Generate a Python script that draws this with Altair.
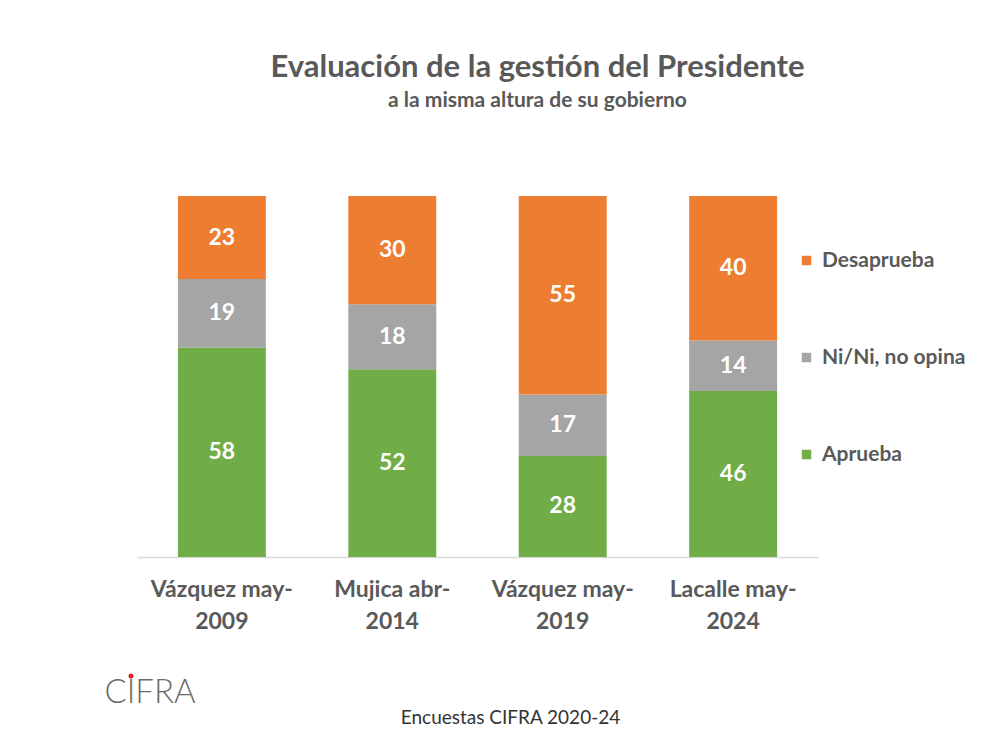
import altair as alt
import pandas as pd

periods = ["Vázquez may-2009", "Mujica abr-2014", "Vázquez may-2019", "Lacalle may-2024"]
aprueba = [58, 52, 28, 46]
nini = [19, 18, 17, 14]
desaprueba = [23, 30, 55, 40]
series = ["Aprueba", "Ni/Ni, no opina", "Desaprueba"]
legend_order = ["Desaprueba", "Ni/Ni, no opina", "Aprueba"]
legend_colors = ["#ED7D31", "#A5A5A5", "#70AD47"]

rows = []
for i, p in enumerate(periods):
    for k, (s, vals) in enumerate(zip(series, [aprueba, nini, desaprueba])):
        rows.append({"periodo": p, "serie": s, "valor": vals[i], "orden": k})
df = pd.DataFrame(rows)

FONT = "Lato"
GREY = "#595959"

base = alt.Chart(df).transform_stack(
    stack="valor", groupby=["periodo"], sort=[alt.SortField("orden")], as_=["v0", "v1"]
).transform_calculate(mid="(datum.v0 + datum.v1) / 2")

x_enc = alt.X(
    "periodo:N",
    sort=periods,
    scale=alt.Scale(paddingInner=0.484, paddingOuter=0.24),
    axis=alt.Axis(
        title="Encuestas CIFRA 2020-24",
        titleFont=FONT, titleFontSize=19, titleFontWeight="normal", titleColor="#333333",
        titleX=373, titleY=166, titleAlign="center", titleBaseline="alphabetic",
        labelAngle=0, labelFont=FONT, labelFontSize=23, labelFontWeight="bold",
        labelColor=GREY, labelPadding=21, labelLineHeight=32, labelLimit=400,
        labelExpr="[slice(datum.label, 0, indexof(datum.label, '-') + 1), slice(datum.label, indexof(datum.label, '-') + 1)]",
        ticks=False, domainColor="#D9D9D9", domainWidth=1.5,
    ),
)

bars = base.mark_bar().encode(
    x=x_enc,
    y=alt.Y("v0:Q", scale=alt.Scale(domain=[0, 100]), axis=None),
    y2="v1:Q",
    color=alt.Color(
        "serie:N",
        scale=alt.Scale(domain=legend_order, range=legend_colors),
        legend=alt.Legend(
            title=None, orient="none", legendX=659, legendY=54, padding=0,
            symbolType="square", symbolSize=90, symbolStrokeWidth=0,
            labelFont=FONT, labelFontSize=21, labelFontWeight="bold", labelColor=GREY,
            labelOffset=5, rowPadding=75,
        ),
    ),
)

labels = base.mark_text(
    color="white", font=FONT, fontSize=23, fontWeight="bold", baseline="middle"
).encode(
    x=alt.X("periodo:N", sort=periods),
    y=alt.Y("mid:Q"),
    text=alt.Text("valor:Q"),
)

logo = alt.Chart(pd.DataFrame({"t": ["CIFRA"]})).mark_text(
    font=FONT, fontSize=33, fontWeight=300, color="#6b6b6b", align="center", baseline="middle"
).encode(x=alt.value(13), y=alt.value(497), text="t:N")

dot = alt.Chart(pd.DataFrame({"t": ["."]})).mark_point(
    filled=True, color="#E02020", size=25, opacity=1
).encode(x=alt.value(-6), y=alt.value(480))

chart = alt.layer(bars, labels, logo, dot).properties(
    width=681,
    height=361,
    autosize=alt.AutoSizeParams(type="none"),
    padding={"left": 129, "top": 188, "right": 170, "bottom": 180},
    background="white",
    title=alt.TitleParams(
        text="Evaluación de la gestión del Presidente",
        subtitle="a la misma altura de su gobierno",
        font=FONT, fontSize=31, fontWeight="bold", color=GREY,
        subtitleFont=FONT, subtitleFontSize=21, subtitleFontWeight="bold", subtitleColor=GREY,
        anchor="middle", dx=60, offset=84, subtitlePadding=6,
    ),
).configure_view(stroke=None)

chart.save("out.html", embed_options={"renderer": "svg", "actions": False})
